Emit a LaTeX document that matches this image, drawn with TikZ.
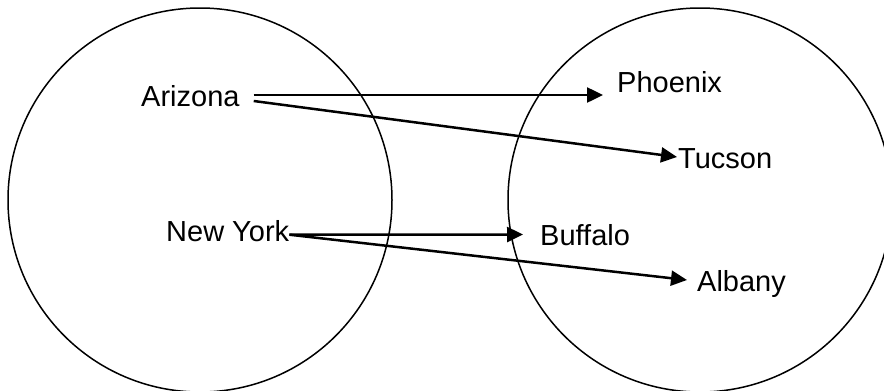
\documentclass[tikz,border=0pt]{standalone}
\usepackage{fontspec}
\setmainfont{Liberation Sans}
\usetikzlibrary{arrows.meta,calc}
\begin{document}
\begin{tikzpicture}[x=1pt,y=-1pt,
  setcircle/.style={draw=black,line width=1.5pt},
  lbl/.style={inner sep=0pt,anchor=base west,font=\fontsize{29}{35}\selectfont},
  arr/.style={line width=2.5pt,-{Triangle[length=16pt,width=15pt]}}]
\useasboundingbox (0,0) rectangle (884,391);
\node[setcircle,circle,minimum size=384pt,inner sep=0pt] (left) at (200,200) {};
\node[setcircle,circle,minimum size=384pt,inner sep=0pt] (right) at (700,200) {};
\node[lbl] (az) at (141,106) {Arizona};
\node[lbl] (ny) at (166,241.7) {New York};
\node[lbl] (ph) at (617,92.3) {Phoenix};
\node[lbl] (tu) at (678,168) {Tucson};
\node[lbl] (bu) at (540,245) {Buffalo};
\node[lbl] (al) at (697,291.7) {Albany};
\draw[arr] ($(az.base east)+(14,-11)$) -- ($(ph.base west)+(-14,2.7)$);
\draw[arr] ($(az.base east)+(14,-5)$) -- ($(tu.base west)+(-1,-11)$);
\draw[arr] ($(ny.base east)+(0,-7)$) -- ($(bu.base west)+(-17,-10.5)$);
\draw[arr] ($(ny.base east)+(0,-7)$) -- ($(al.base west)+(-10,-11.7)$);
\end{tikzpicture}
\end{document}
